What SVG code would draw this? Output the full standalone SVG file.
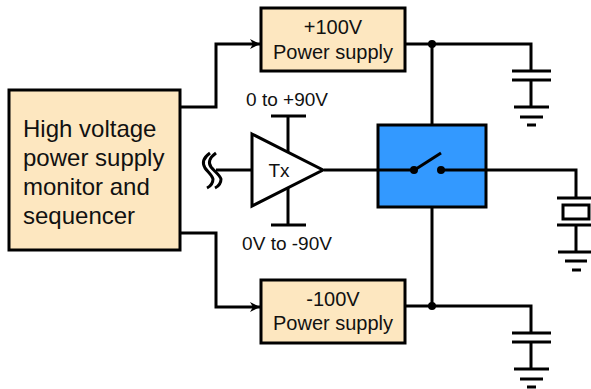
<svg xmlns="http://www.w3.org/2000/svg" width="591" height="389" viewBox="0 0 591 389">
<defs><marker id="arr" markerUnits="userSpaceOnUse" markerWidth="12" markerHeight="12" refX="11" refY="6" orient="auto"><path d="M1,1 L11,6 L1,11 L4,6 Z" fill="#000"/></marker></defs>
<style>
text{font-family:"Liberation Sans",Arial,sans-serif;fill:#111;text-anchor:middle}
.box{fill:#fde7c0;stroke:#000;stroke-width:3}
.w{fill:none;stroke:#000;stroke-width:3}
.l18{font-size:20px}.l21{font-size:24px}.l17{font-size:19px}
</style>
<rect width="591" height="389" fill="#fff"/>
<g id="connectors" class="w">
<path d="M180,107 H216 V44 H260" marker-end="url(#arr)"/>
<path d="M180,233 H216 V307 H260" marker-end="url(#arr)"/>
<path d="M405,44 H531 V71"/><path d="M432,44 V125"/>
<path d="M405,306 H531 V333"/><path d="M432,207 V306"/>
<path d="M216,170 H252"/><path d="M324,170 H378"/><path d="M486,170 H576 V198"/>
<path d="M288,116 V152"/><path d="M271,116 H306"/>
<path d="M288,188 V225"/><path d="M271,225 H306"/>
</g>
<g id="monitor"><rect class="box" x="9" y="90" width="171" height="160"/>
<text class="l21" style="text-anchor:start" x="23" y="137">High voltage</text>
<text class="l21" style="text-anchor:start" x="23" y="166">power supply</text>
<text class="l21" style="text-anchor:start" x="23" y="195">monitor and</text>
<text class="l21" style="text-anchor:start" x="23" y="224">sequencer</text></g>
<g id="psu-pos"><rect class="box" x="261" y="8" width="144" height="63"/>
<text class="l18" x="333" y="34">+100V</text><text class="l18" x="333" y="59">Power supply</text></g>
<g id="psu-neg"><rect class="box" x="261" y="280" width="144" height="63"/>
<text class="l18" x="333" y="306">-100V</text><text class="l18" x="333" y="330">Power supply</text></g>
<g id="tx"><path d="M252,134 L323,170 L252,206 Z" fill="#fff" stroke="#000" stroke-width="3"/><text class="l17" x="279" y="177">Tx</text></g>
<g id="tx-input" class="w"><path d="M210,153 C203,158 202,163 205,168 C208,172 212,175 213,179 C213,183 211,186 207,188"/><path d="M216,153 C209,158 208,163 211,167 C215,172 220,175 221,179 C221,183 219,186 215,188"/></g>
<g id="label-top"><text class="l17" x="287" y="106">0 to +90V</text></g>
<g id="label-bottom"><text class="l17" x="287" y="250">0V to -90V</text></g>
<g id="switch"><rect x="378" y="125" width="108" height="82" fill="#3399ff" stroke="#000" stroke-width="3"/>
<path d="M378,170 H414 M441,170 H486" class="w"/><path d="M416,169 L441,153" class="w"/>
<circle cx="414" cy="170" r="4"/><circle cx="441" cy="170" r="4"/></g>
<g id="junction-top"><circle cx="432" cy="44" r="4"/></g>
<g id="junction-bottom"><circle cx="432" cy="306" r="4"/></g>
<g id="cap-top" class="w"><path d="M512,71 H551 M512,80 H551 M531,80 V107 M514,107 H549"/><path d="M520,117 H543 M527,125 H536"/></g>
<g id="cap-bottom" class="w"><path d="M512,333 H551 M512,342 H551 M531,342 V369 M514,369 H549"/><path d="M520,379 H543 M527,387 H536"/></g>
<g id="crystal" class="w"><path d="M557,198 H591 M563,205 H589 V219 H563 Z M557,225 H591 M576,225 V252 M558,252 H591 M565,261 H587 M572,270 H581"/></g>
</svg>
